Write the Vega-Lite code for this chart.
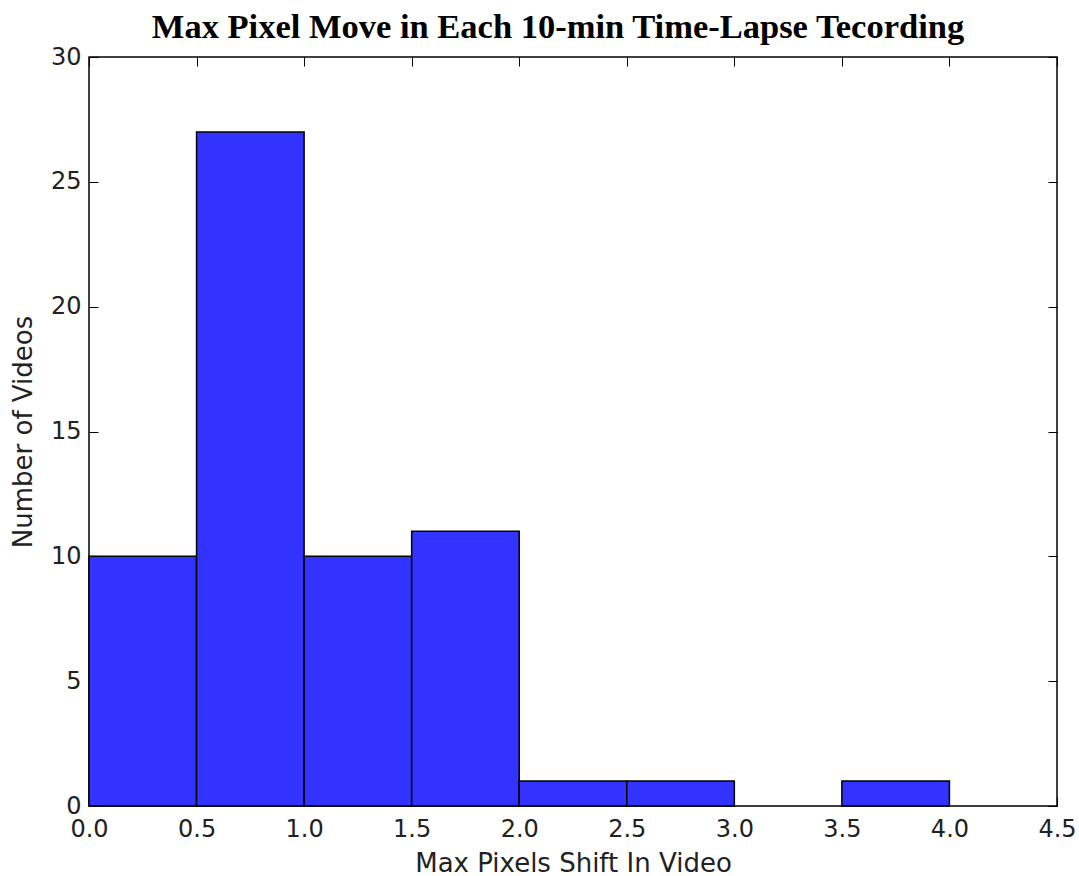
{
  "$schema": "https://vega.github.io/schema/vega-lite/v6.json",
  "autosize": {"type": "none"},
  "padding": {"left": 89, "top": 57, "right": 22, "bottom": 70},
  "width": 968,
  "height": 749,
  "background": "white",
  "title": {
    "text": "Max Pixel Move in Each 10-min Time-Lapse Tecording",
    "font": "Liberation Serif",
    "fontSize": 34.5,
    "fontWeight": "bold",
    "color": "black",
    "offset": 0,
    "dx": -15,
    "anchor": "middle"
  },
  "config": {
    "view": {"stroke": "black", "strokeWidth": 1.5},
    "axis": {
      "grid": false,
      "domain": false,
      "tickColor": "black",
      "tickSize": -9,
      "tickWidth": 1,
      "labelFont": "DejaVu Sans",
      "labelFontSize": 24,
      "labelColor": "#222222",
      "titleFont": "DejaVu Sans",
      "titleFontSize": 26,
      "titleFontWeight": "normal",
      "titleColor": "#222222"
    }
  },
  "data": {
    "values": [
      {"bin_start": 0.0, "bin_end": 0.5, "count": 10},
      {"bin_start": 0.5, "bin_end": 1.0, "count": 27},
      {"bin_start": 1.0, "bin_end": 1.5, "count": 10},
      {"bin_start": 1.5, "bin_end": 2.0, "count": 11},
      {"bin_start": 2.0, "bin_end": 2.5, "count": 1},
      {"bin_start": 2.5, "bin_end": 3.0, "count": 1},
      {"bin_start": 3.5, "bin_end": 4.0, "count": 1}
    ]
  },
  "resolve": {"axis": {"x": "independent", "y": "independent"}},
  "layer": [
    {
      "mark": {"type": "bar", "fill": "#3333ff", "stroke": "black", "strokeWidth": 1.5, "orient": "vertical"},
      "encoding": {
        "x": {
          "field": "bin_start", "type": "quantitative",
          "scale": {"domain": [0, 4.5], "nice": false, "zero": false, "padding": 0},
          "axis": {"title": "Max Pixels Shift In Video", "values": [0, 0.5, 1, 1.5, 2, 2.5, 3, 3.5, 4, 4.5], "format": ".1f", "labelPadding": 20, "titlePadding": 9, "labelFlush": false}
        },
        "x2": {"field": "bin_end"},
        "y": {
          "field": "count", "type": "quantitative",
          "scale": {"domain": [0, 30], "nice": false, "padding": 0},
          "axis": {"title": "Number of Videos", "values": [0, 5, 10, 15, 20, 25, 30], "labelPadding": 17, "titlePadding": 14, "labelFlush": false}
        },
        "y2": {"datum": 0}
      }
    },
    {
      "mark": {"type": "rule", "opacity": 0},
      "encoding": {
        "x": {
          "field": "bin_start", "type": "quantitative",
          "axis": {"orient": "top", "title": null, "labels": false, "values": [0, 0.5, 1, 1.5, 2, 2.5, 3, 3.5, 4, 4.5]}
        },
        "y": {
          "field": "count", "type": "quantitative",
          "axis": {"orient": "right", "title": null, "labels": false, "values": [0, 5, 10, 15, 20, 25, 30]}
        }
      }
    }
  ]
}
